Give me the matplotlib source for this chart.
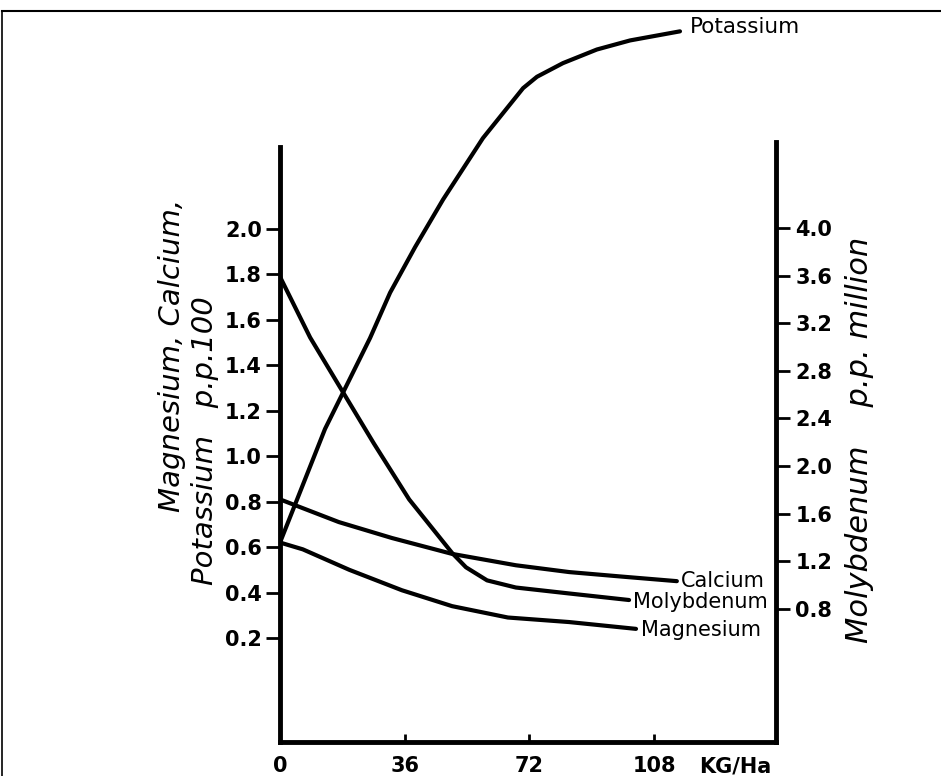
import matplotlib
matplotlib.use("Agg")
import matplotlib.pyplot as plt
from matplotlib.lines import Line2D

plt.rcParams['font.family'] = ['DejaVu Sans']

# ---- data ----
potassium_x = [0, 13.0, 18.2, 26.0, 31.8, 39.0, 47.1, 58.6, 70.2, 74.2, 81.7, 91.5, 101.1, 115.5]
potassium_y = [0.62, 1.12, 1.28, 1.52, 1.72, 1.92, 2.13, 2.40, 2.62, 2.67, 2.73, 2.79, 2.83, 2.87]

calcium_x = [0, 17.0, 32.3, 49.7, 68.1, 83.5, 98.8, 114.6]
calcium_y = [0.81, 0.71, 0.64, 0.57, 0.52, 0.49, 0.47, 0.45]

magnesium_x = [0, 6.6, 20.0, 35.2, 49.7, 65.8, 83.5, 102.8]
magnesium_y = [0.62, 0.59, 0.50, 0.41, 0.34, 0.29, 0.27, 0.24]

molybdenum_x = [0, 8.7, 18.2, 27.1, 37.3, 49.7, 53.7, 59.8, 68.1, 83.5, 100.8]
molybdenum_y = [3.59, 3.08, 2.62, 2.19, 1.72, 1.27, 1.15, 1.04, 0.98, 0.93, 0.875]

left_ticks = [0.2, 0.4, 0.6, 0.8, 1.0, 1.2, 1.4, 1.6, 1.8, 2.0]
left_labels = ["0.2", "0.4", "0.6", "0.8", "1.0", "1.2", "1.4", "1.6", "1.8", "2.0"]
right_ticks = [0.8, 1.2, 1.6, 2.0, 2.4, 2.8, 3.2, 3.6, 4.0]
right_labels = ["0.8", "1.2", "1.6", "2.0", "2.4", "2.8", "3.2", "3.6", "4.0"]
x_ticks = [0, 36, 72, 108]
x_labels = ["0", "36", "72", "108"]

W, H = 941, 776
fig = plt.figure(figsize=(W / 100, H / 100), dpi=100)
fig.patch.set_facecolor("white")

# axes geometry in pixels
px_left, px_right, px_bottom, px_top = 280, 776, 742, 10
ax = fig.add_axes([px_left / W, 1 - px_bottom / H, (px_right - px_left) / W, (px_bottom - px_top) / H])
ax.patch.set_alpha(0)

# scales
xscale = 3.463          # px per kg
l_zero, l_scale = 683.4, 227.2
r_zero, r_scale = 704.2, 119.06

ax.set_xlim(0, (px_right - px_left) / xscale)
ax.set_ylim((l_zero - px_bottom) / l_scale, (l_zero - px_top) / l_scale)

ax2 = ax.twinx()
ax2.set_ylim((r_zero - px_bottom) / r_scale, (r_zero - px_top) / r_scale)

lw_curve = 3.0
style = dict(color="black", lw=lw_curve, solid_capstyle="round", solid_joinstyle="round")
ax.plot(potassium_x, potassium_y, **style)
ax.plot(calcium_x, calcium_y, **style)
ax.plot(magnesium_x, magnesium_y, **style)
ax2.plot(molybdenum_x, molybdenum_y, **style)

# spines
for s in ["top", "right"]:
    ax.spines[s].set_visible(False)
for s in ["top", "left", "bottom"]:
    ax2.spines[s].set_visible(False)
ax.spines["left"].set_linewidth(3.5)
ax.spines["bottom"].set_linewidth(3.5)
ax2.spines["right"].set_linewidth(3.5)
ax.spines["left"].set_bounds(ax.get_ylim()[0], (l_zero - 147) / l_scale)
ax2.spines["right"].set_bounds(ax2.get_ylim()[0], (r_zero - 142) / r_scale)
for sp in [ax.spines["left"], ax.spines["bottom"], ax2.spines["right"]]:
    sp.set_capstyle("projecting")

tick_font = dict(fontsize=15, fontweight="bold")
ax.set_yticks(left_ticks)
ax.set_yticklabels(left_labels, **tick_font)
ax.tick_params(axis="y", direction="out", length=10, width=2, pad=3)

ax2.set_yticks(right_ticks)
ax2.set_yticklabels(right_labels, **tick_font)
ax2.tick_params(axis="y", direction="out", length=10, width=2, pad=4)

ax.set_xticks(x_ticks)
ax.set_xticklabels(x_labels, **tick_font)
ax.tick_params(axis="x", direction="in", length=6, width=2, pad=10)
ax.xaxis.get_major_ticks()[0].tick1line.set_visible(False)

ax.text(699 / W, 1 - 767 / H, "KG/Ha", transform=fig.transFigure, ha="left", va="center", **tick_font)

# curve labels
lab_font = dict(fontsize=15, ha="left", va="center")
ax.text(calcium_x[-1] + 1.2, calcium_y[-1], "Calcium", **lab_font)
ax.text(magnesium_x[-1] + 1.5, magnesium_y[-1] - 0.005, "Magnesium", **lab_font)
ax2.text(molybdenum_x[-1] + 1.2, molybdenum_y[-1] - 0.02, "Molybdenum", **lab_font)
ax.text(potassium_x[-1] + 3.0, potassium_y[-1] + 0.02, "Potassium", fontsize=15.5, ha="left", va="center")

# axis titles
fig.text(172 / W, 1 - 355 / H, "Magnesium, Calcium,", rotation=90, ha="center", va="center",
         fontsize=21, style="italic")
fig.text(205 / W, 1 - 441 / H, "Potassium   p.p.100", rotation=90, ha="center", va="center",
         fontsize=21, style="italic")
fig.text(860 / W, 1 - 440 / H, "Molybdenum    p.p. million", rotation=90, ha="center", va="center",
         fontsize=22, style="italic")

# outer frame (top and left edges)
fig.add_artist(Line2D([2 / W, 2 / W], [0, 1 - 11 / H], transform=fig.transFigure, color="black", lw=1.2))
fig.add_artist(Line2D([2 / W, 1], [1 - 11 / H, 1 - 11 / H], transform=fig.transFigure, color="black", lw=1.5))

fig.savefig("out.png", dpi=100, facecolor="white")
